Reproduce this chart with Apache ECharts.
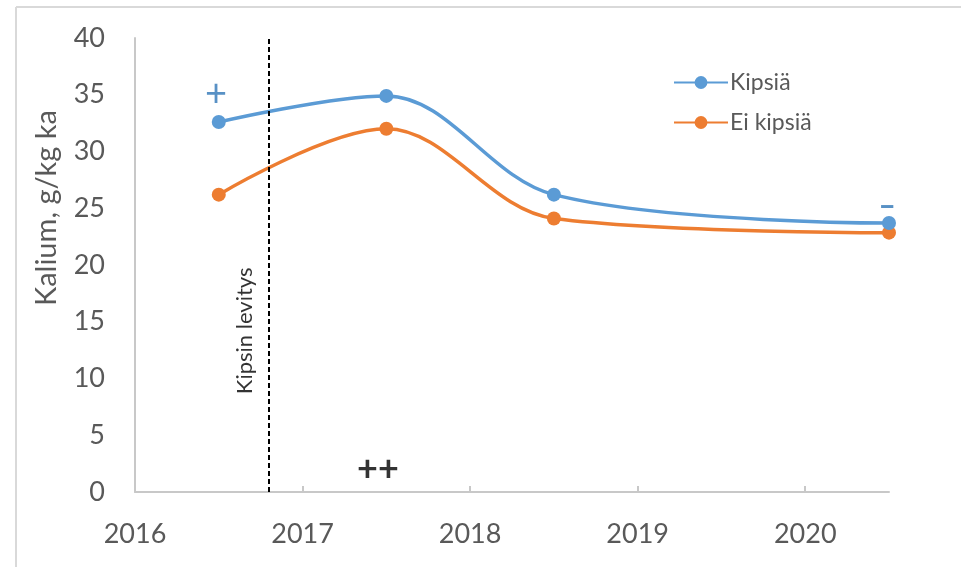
<!DOCTYPE html>
<html>
<head>
<meta charset="utf-8">
<script src="https://cdn.jsdelivr.net/npm/echarts@6/dist/echarts.min.js"></script>
<style>
  html, body { margin: 0; padding: 0; background: #fff; }
  #chart { width: 961px; height: 567px; }
</style>
</head>
<body>
<div id="chart"></div>
<script>
// Sampling years (mid-season) and potassium content, g/kg dry matter
const years = [2016.5, 2017.5, 2018.5, 2020.5];
const kipsia = [32.6, 34.9, 26.2, 23.7];
const eiKipsia = [26.2, 32.0, 24.1, 22.85];
const seriesNames = ['Kipsiä', 'Ei kipsiä'];

// Axis ticks
const xTicks = [2016, 2017, 2018, 2019, 2020];
const yTicks = [0, 5, 10, 15, 20, 25, 30, 35, 40];

// Gypsum application date and the significance markers
const applicationYear = 2016.8;
const applicationLabel = 'Kipsin levitys';
const markers = [
  { x: 2016.483, y: 35.05, text: '+', color: '#2E75B6', size: 38, weight: 'normal' },
  { x: 2017.45, y: 1.95, text: '++', color: '#000000', size: 36, weight: 'bold' },
  { x: 2020.49, y: 25.15, text: '–', color: '#2E75B6', size: 30, weight: 900 }
];

const FONT = 'Lato, "Noto Sans", sans-serif';
const GREY = '#595959';

const chart = echarts.init(document.getElementById('chart'), null, { renderer: 'canvas' });

const pairs = (xs, ys) => xs.map((x, i) => [x, ys[i]]);

chart.setOption({
  animation: false,
  backgroundColor: '#ffffff',
  grid: { left: 135, right: 72, top: 38, bottom: 75, containLabel: false },
  legend: {
    data: seriesNames,
    orient: 'vertical',
    left: 668,
    top: 66,
    itemWidth: 54,
    itemHeight: 16,
    itemGap: 17,
    textStyle: { color: GREY, fontSize: 23, fontFamily: FONT, padding: [0, 0, 0, -3] }
  },
  xAxis: {
    type: 'value',
    min: xTicks[0],
    max: 2020.5,
    interval: 1,
    splitLine: { show: false },
    axisLine: { lineStyle: { color: '#c8c8c8', width: 2 } },
    axisTick: { show: true, inside: true, length: 6, customValues: xTicks.slice(1), lineStyle: { color: '#c8c8c8', width: 2 } },
    axisLabel: {
      customValues: xTicks,
      formatter: v => String(v),
      color: GREY, fontSize: 27, fontFamily: FONT, margin: 29
    }
  },
  yAxis: {
    type: 'value',
    min: yTicks[0],
    max: yTicks[yTicks.length - 1],
    interval: 5,
    splitLine: { show: false },
    axisLine: { show: true, lineStyle: { color: '#c8c8c8', width: 2 } },
    axisTick: { show: false },
    axisLabel: { color: GREY, fontSize: 27, fontFamily: FONT, margin: 30 }
  },
  graphic: [
    // outer frame edges
    { type: 'line', shape: { x1: 16, y1: 7, x2: 961, y2: 7 }, style: { stroke: '#d9d9d9', lineWidth: 2 } },
    { type: 'line', shape: { x1: 16, y1: 7, x2: 16, y2: 567 }, style: { stroke: '#d9d9d9', lineWidth: 2 } },
    // y axis title
    {
      type: 'text', x: 47, y: 208, rotation: Math.PI / 2,
      style: { text: 'Kalium, g/kg ka', fill: GREY, font: '29px ' + FONT, textAlign: 'center', textVerticalAlign: 'middle' }
    }
  ],
  series: [
    {
      name: seriesNames[0],
      type: 'line',
      data: pairs(years, kipsia),
      smooth: 0.35,
      symbol: 'circle',
      symbolSize: 14,
      itemStyle: { color: '#5B9BD5' },
      lineStyle: { color: '#5B9BD5', width: 3.5 },
      z: 3,
      markLine: {
        silent: true,
        symbol: ['none', 'none'],
        label: { show: false },
        lineStyle: { color: '#000', width: 2, type: [5, 3] },
        data: [{ xAxis: applicationYear }]
      }
    },
    {
      name: seriesNames[1],
      type: 'line',
      data: pairs(years, eiKipsia),
      smooth: 0.35,
      symbol: 'circle',
      symbolSize: 14,
      itemStyle: { color: '#ED7D31' },
      lineStyle: { color: '#ED7D31', width: 3.5 },
      z: 2
    },
    {
      // application label beside the dashed line
      type: 'scatter',
      symbolSize: 0,
      silent: true,
      data: [[2016.656, 14.2]],
      label: {
        show: true, position: 'inside', rotate: 90,
        formatter: applicationLabel,
        color: '#000', fontSize: 22, fontFamily: FONT
      }
    },
    {
      // significance markers
      type: 'scatter',
      symbolSize: 0,
      silent: true,
      data: markers.map(m => ({
        value: [m.x, m.y],
        label: { formatter: m.text, color: m.color, fontSize: m.size, fontWeight: m.weight }
      })),
      label: { show: true, position: 'inside', fontFamily: FONT }
    }
  ]
});
</script>
</body>
</html>
